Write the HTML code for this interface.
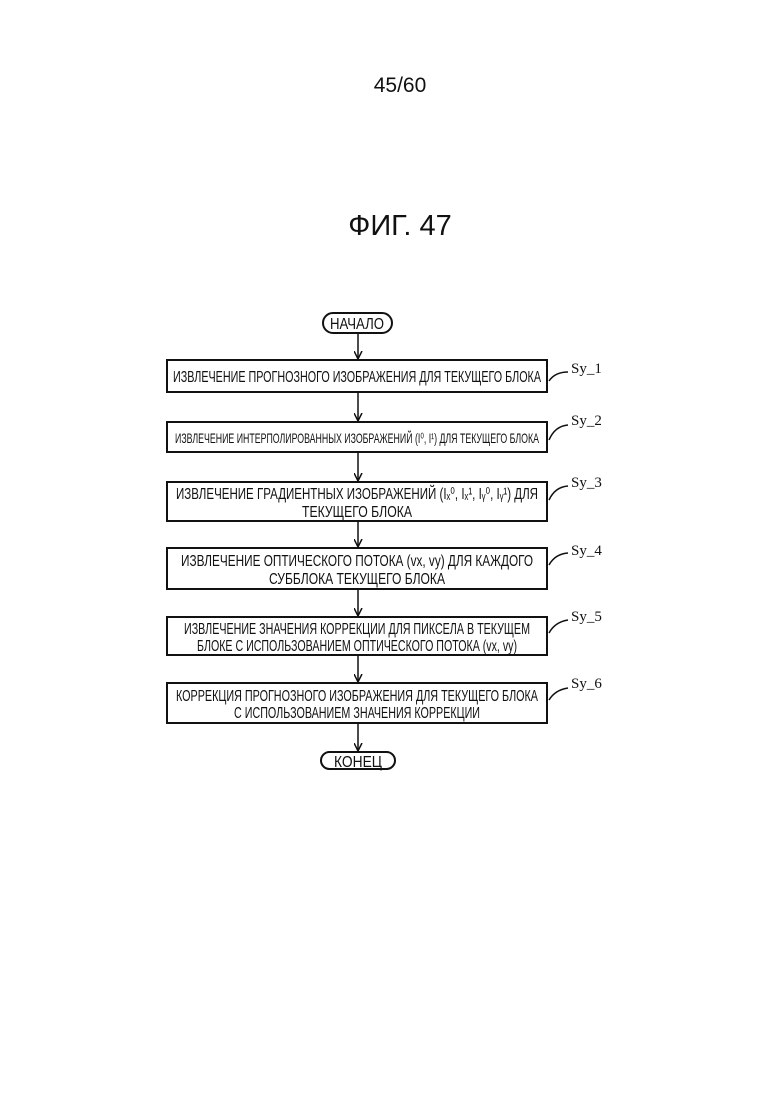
<!DOCTYPE html>
<html><head><meta charset="utf-8"><style>
html,body{margin:0;padding:0;background:#fff;}
svg text{font-family:"Liberation Sans Narrow","Liberation Sans",sans-serif;fill:#111;}
</style></head><body>
<svg width="780" height="1103" viewBox="0 0 780 1103" xmlns="http://www.w3.org/2000/svg">
<defs><marker id="a" markerWidth="10" markerHeight="10" refX="4" refY="8" orient="0" markerUnits="userSpaceOnUse"><path d="M0,0 L4,8 L8,0" fill="none" stroke="#111" stroke-width="1.5"/></marker></defs>
<text x="400" y="92" font-size="21" text-anchor="middle" style="font-family:'Liberation Sans',sans-serif">45/60</text>
<text x="400" y="235" font-size="29" text-anchor="middle" style="font-family:'Liberation Sans',sans-serif">ФИГ. 47</text>
<g fill="none" stroke="#111" stroke-width="2">
<rect x="323" y="313" width="69" height="20" rx="10"/>
<rect x="321" y="752" width="74" height="17" rx="8.5"/>
<rect x="167" y="360" width="380" height="32"/>
<rect x="167" y="422" width="380" height="30"/>
<rect x="167" y="482" width="380" height="39"/>
<rect x="167" y="548" width="380" height="41"/>
<rect x="167" y="617" width="380" height="38"/>
<rect x="167" y="683" width="380" height="40"/>
</g>
<g stroke="#111" stroke-width="1.5" fill="none">
<line x1="358" y1="333" x2="358" y2="359" marker-end="url(#a)"/>
<line x1="358" y1="392" x2="358" y2="421" marker-end="url(#a)"/>
<line x1="358" y1="452" x2="358" y2="481" marker-end="url(#a)"/>
<line x1="358" y1="521" x2="358" y2="547" marker-end="url(#a)"/>
<line x1="358" y1="589" x2="358" y2="616" marker-end="url(#a)"/>
<line x1="358" y1="655" x2="358" y2="682" marker-end="url(#a)"/>
<line x1="358" y1="723" x2="358" y2="751" marker-end="url(#a)"/>
<path d="M549,381 Q555,372 568,372"/>
<path d="M549,440 Q555,426 568,425"/>
<path d="M549,500 Q555,487 568,486"/>
<path d="M549,565 Q555,554 568,553"/>
<path d="M549,633 Q555,622 568,620"/>
<path d="M549,700 Q555,690 568,688"/>
</g>
<g font-size="16" text-anchor="middle">
<text x="357" y="329" textLength="54" lengthAdjust="spacingAndGlyphs">НАЧАЛО</text>
<text x="358" y="767" textLength="48" lengthAdjust="spacingAndGlyphs">КОНЕЦ</text>
<text x="357" y="382" textLength="368" lengthAdjust="spacingAndGlyphs">ИЗВЛЕЧЕНИЕ ПРОГНОЗНОГО ИЗОБРАЖЕНИЯ ДЛЯ ТЕКУЩЕГО БЛОКА</text>
<text x="357" y="443" font-size="14" textLength="364" lengthAdjust="spacingAndGlyphs">ИЗВЛЕЧЕНИЕ ИНТЕРПОЛИРОВАННЫХ ИЗОБРАЖЕНИЙ (I⁰, I¹) ДЛЯ ТЕКУЩЕГО БЛОКА</text>
<text x="357" y="499" textLength="362" lengthAdjust="spacingAndGlyphs">ИЗВЛЕЧЕНИЕ ГРАДИЕНТНЫХ ИЗОБРАЖЕНИЙ (Iₓ⁰, Iₓ¹, Iᵧ⁰, Iᵧ¹) ДЛЯ</text>
<text x="357" y="517" textLength="110" lengthAdjust="spacingAndGlyphs">ТЕКУЩЕГО БЛОКА</text>
<text x="357" y="566" textLength="352" lengthAdjust="spacingAndGlyphs">ИЗВЛЕЧЕНИЕ ОПТИЧЕСКОГО ПОТОКА (vx, vy) ДЛЯ КАЖДОГО</text>
<text x="357" y="584" textLength="176" lengthAdjust="spacingAndGlyphs">СУББЛОКА ТЕКУЩЕГО БЛОКА</text>
<text x="357" y="634" textLength="346" lengthAdjust="spacingAndGlyphs">ИЗВЛЕЧЕНИЕ ЗНАЧЕНИЯ КОРРЕКЦИИ ДЛЯ ПИКСЕЛА В ТЕКУЩЕМ</text>
<text x="357" y="651" textLength="320" lengthAdjust="spacingAndGlyphs">БЛОКЕ С ИСПОЛЬЗОВАНИЕМ ОПТИЧЕСКОГО ПОТОКА (vx, vy)</text>
<text x="357" y="701" textLength="362" lengthAdjust="spacingAndGlyphs">КОРРЕКЦИЯ ПРОГНОЗНОГО ИЗОБРАЖЕНИЯ ДЛЯ ТЕКУЩЕГО БЛОКА</text>
<text x="357" y="718" textLength="246" lengthAdjust="spacingAndGlyphs">С ИСПОЛЬЗОВАНИЕМ ЗНАЧЕНИЯ КОРРЕКЦИИ</text>
</g>
<g font-size="15">
<text x="571" y="373" style="font-family:'Liberation Serif',serif">Sy_1</text>
<text x="571" y="425" style="font-family:'Liberation Serif',serif">Sy_2</text>
<text x="571" y="487" style="font-family:'Liberation Serif',serif">Sy_3</text>
<text x="571" y="555" style="font-family:'Liberation Serif',serif">Sy_4</text>
<text x="571" y="621" style="font-family:'Liberation Serif',serif">Sy_5</text>
<text x="571" y="688" style="font-family:'Liberation Serif',serif">Sy_6</text>
</g>
</svg>
</body></html>
